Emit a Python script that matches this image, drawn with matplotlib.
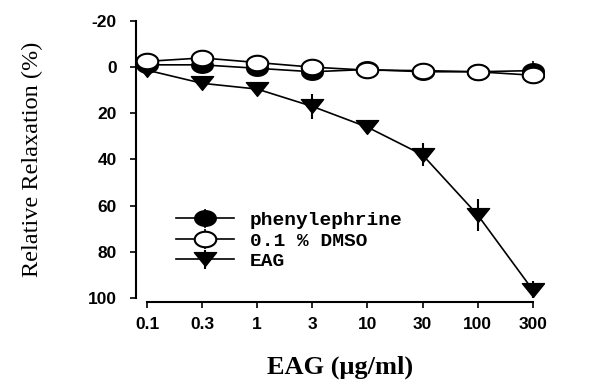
import matplotlib.pyplot as plt
from matplotlib.path import Path
import numpy as np

# concentrations (categorical, evenly spaced)
doses = ['0.1', '0.3', '1', '3', '10', '30', '100', '300']

phenylephrine = [-1, -1, 0.5, 2, 1, 2, 2, 1.5]
phenylephrine_err = [2, 2, 2, 2, 2, 2, 2, 4]
dmso = [-2.5, -4, -2, 0, 1.3, 1.5, 2, 3.5]
dmso_err = [2, 2, 2, 2, 2, 2, 2, 3]
eag = [1.3, 7, 9.5, 17, 26, 38, 64, 96.5]
eag_err = [1, 1, 1.5, 5.5, 3, 5, 7, 4]

yticks = [-20, 0, 20, 40, 60, 80, 100]

plt.rcParams['axes.unicode_minus'] = False

# markers look wider than tall in the original
t = np.linspace(0, 2 * np.pi, 60)
ellipse = Path(np.column_stack([np.cos(t), 0.72 * np.sin(t)]), closed=True)
tri = Path([(-1, 0.62), (1, 0.62), (0, -0.62), (-1, 0.62)], closed=True)


def gerar_grafico():
    fig = plt.figure(figsize=(6.05, 3.87), dpi=100)
    ax = fig.add_axes([0.2248, 0.230, 0.674, 0.7158])
    x = list(range(len(doses)))

    ax.errorbar(x, phenylephrine, yerr=phenylephrine_err, color='black', marker=ellipse,
                markersize=15.5, markerfacecolor='black', lw=1.2, capsize=0,
                elinewidth=1.2, label='phenylephrine', zorder=3)
    ax.errorbar(x, dmso, yerr=dmso_err, color='black', marker=ellipse,
                markersize=15.5, markerfacecolor='white', markeredgewidth=1.5, lw=1.2,
                capsize=0, elinewidth=1.2, label='0.1 % DMSO', zorder=4)
    ax.errorbar(x, eag, yerr=eag_err, color='black', marker=tri,
                markersize=16, lw=1.2, capsize=0, elinewidth=1.5,
                label='EAG', zorder=3)

    ax.set_xlim(-0.2, 7.2)
    ax.set_ylim(100, -20)
    ax.set_xticks(x)
    ax.set_xticklabels(doses)
    ax.set_yticks(yticks)

    for s in ['top', 'right']:
        ax.spines[s].set_visible(False)
    ax.spines['left'].set_linewidth(1.5)
    ax.spines['bottom'].set_linewidth(1.5)
    ax.spines['bottom'].set_position(('outward', 3))
    ax.spines['bottom'].set_bounds(0, 7)
    ax.spines['left'].set_bounds(100, -20)

    ax.tick_params(axis='both', direction='out', length=4, width=1.2, labelsize=12.5)
    ax.tick_params(axis='x', pad=7)
    ax.tick_params(axis='y', pad=10)
    for lab in ax.get_xticklabels() + ax.get_yticklabels():
        lab.set_fontweight('bold')
        lab.set_family('Liberation Sans')

    ax.set_xlabel('EAG (μg/ml)', fontsize=19, fontweight='bold',
                  family='Liberation Serif', labelpad=17)
    ax.set_ylabel('Relative Relaxation (%)', fontsize=17.5,
                  family='Liberation Serif', labelpad=32)

    ax.legend(loc='upper left', bbox_to_anchor=(0.055, 0.375), frameon=False,
              handlelength=3.0, handletextpad=0.8, labelspacing=0.15,
              prop={'family': 'Liberation Mono', 'weight': 'bold', 'size': 14})

    fig.savefig('out.png', dpi=100)


def main():
    gerar_grafico()


if __name__ == "__main__":
    main()
